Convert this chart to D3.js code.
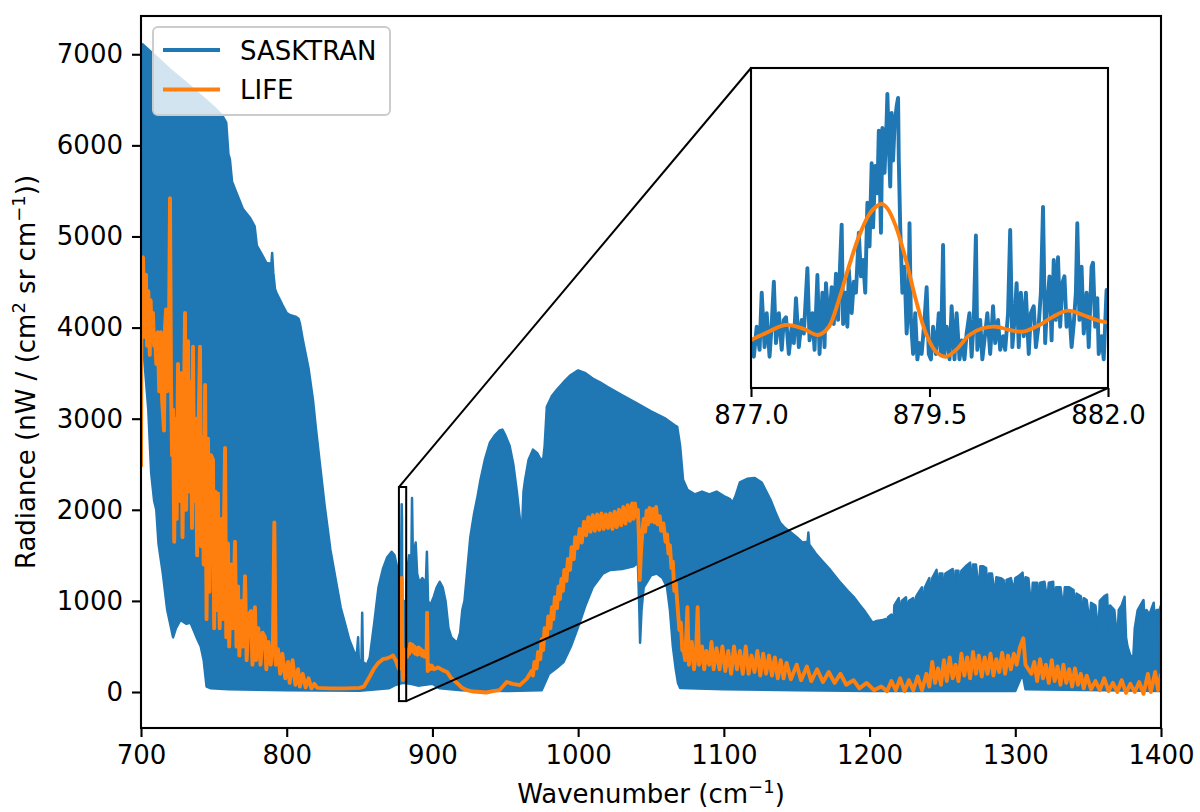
<!DOCTYPE html>
<html><head><meta charset="utf-8">
<script src="https://cdn.jsdelivr.net/npm/d3@7"></script>
<style>body{margin:0;background:#fff}text{font-family:"DejaVu Sans",sans-serif;fill:#000}</style>
</head><body><svg id="c" width="1200" height="812"></svg>
<script>
// ---------------- data ----------------
const xTicks = [700, 800, 900, 1000, 1100, 1200, 1300, 1400];
const yTicks = [0, 1000, 2000, 3000, 4000, 5000, 6000, 7000];
const insetTicks = [877.0, 879.5, 882.0];
const seriesNames = ["SASKTRAN", "LIFE"];

// SASKTRAN: dense spectrum, drawn as upper / lower envelope [wavenumber, radiance]
const sasktranUpper = [[700,7100],[701,7110],[710,6980],[720,6830],[730,6700],[740,6560],[750,6420],[756,6320],[758.5,6250],[760,5900],[761,5850],[762.5,5600],[765,5500],[770,5300],[775,5200],[778,5110],[779.5,4900],[783,4800],[786,4710],[789.5,4700],[790,4820],[790.8,4600],[792,4420],[793,4380],[797,4250],[800,4160],[802,4140],[806,4120],[808,4100],[809,4050],[811,3870],[815,3550],[818,3210],[820,2900],[823,2470],[826,2050],[830,1560],[834,1200],[837,930],[840,750],[843,570],[846,450],[848,385],[849,600],[849.5,350],[851.3,350],[851.8,870],[852.3,330],[855,300],[857,380],[860,750],[863,1150],[866,1350],[869,1480],[872,1540],[874,1500],[876,1350],[877,1000],[878,1300],[878.5,1500],[878.9,2060],[879.1,1900],[879.3,1000],[880,900],[881,1000],[881.8,900],[882.5,1300],[884,1500],[885.5,1400],[886,2130],[886.6,1450],[888.5,1640],[889.5,1300],[891,1200],[893,1250],[895.5,1200],[896.2,1540],[897,1000],[898.5,950],[901,1050],[903,1150],[905,1210],[907,1150],[909,1000],[911,700],[913,600],[917,540],[919,650],[920.5,900],[922,1000],[924,1350],[926,1700],[928.5,1950],[931,2150],[933,2330],[936,2550],[939.5,2740],[943,2820],[946,2870],[948,2880],[950,2820],[953,2700],[955.5,2500],[958,2190],[960,1900],[960.6,1420],[961.3,1700],[962.5,2200],[963.6,2330],[966,2550],[969,2660],[972,2620],[974,2560],[976,2550],[977,2700],[978.5,3130],[982,3250],[985.5,3320],[990,3400],[995,3480],[1000,3530],[1005,3500],[1010,3440],[1015,3400],[1020,3350],[1030,3260],[1040,3170],[1050,3080],[1060,3000],[1066,2930],[1068,2910],[1070,2700],[1072,2330],[1075,2220],[1080,2170],[1085,2200],[1090,2170],[1095,2200],[1100,2150],[1104,2120],[1106,2080],[1108,2150],[1111,2300],[1116,2340],[1121,2350],[1126,2300],[1132,2110],[1136,1950],[1138.5,1860],[1142,1800],[1146,1750],[1150,1700],[1154,1640],[1157.5,1650],[1158,1750],[1158.6,1620],[1163,1520],[1168,1430],[1173,1340],[1180,1200],[1185,1110],[1189,1045],[1193,960],[1197,880],[1202,760],[1205,780],[1209,790],[1211,800],[1211.8,500],[1212.6,820],[1215,850],[1216,600],[1217,950],[1220,1030],[1221,700],[1222,1000],[1225,1040],[1226,760],[1227,1000],[1230,1030],[1231,800],[1232,1050],[1234,1100],[1236,1150],[1237,800],[1238,1150],[1241,1250],[1242,900],[1243,1250],[1246,1340],[1247,950],[1248,1300],[1250,1300],[1251,1000],[1252,1300],[1255,1330],[1257,1350],[1258,1000],[1259,1330],[1261,1330],[1262,1050],[1263,1330],[1266,1380],[1269,1420],[1270,1050],[1271,1400],[1273,1400],[1275,1100],[1276,1380],[1278,1380],[1280,1360],[1281,1000],[1282,1300],[1284,1300],[1286,1050],[1287,1260],[1290,1250],[1292,1230],[1293,950],[1294,1230],[1297,1250],[1299,1100],[1300,1250],[1303,1280],[1305,1310],[1306,1000],[1307,1260],[1309,1250],[1311,900],[1312,1200],[1315,1200],[1316,950],[1317,1200],[1320,1210],[1322,1000],[1323,1200],[1326,1210],[1327,850],[1328,1150],[1331,1150],[1333,900],[1334,1150],[1337,1150],[1340,1120],[1341,800],[1342,1080],[1345,1050],[1346,700],[1347,1030],[1349,1010],[1351,750],[1352,980],[1355,950],[1357,650],[1358,1000],[1361,1050],[1363,1070],[1364,700],[1365,950],[1368,900],[1370,550],[1371,900],[1373,950],[1375,1045],[1376,600],[1377,500],[1379,400],[1381,385],[1382,700],[1384,900],[1388,1010],[1389,650],[1390,900],[1392,850],[1395,980],[1396,600],[1397,900],[1399,900],[1400,950]];
const sasktranLower = [[700,3800],[701.5,3790],[703,3500],[705,3100],[707,2400],[709,2100],[710.5,2000],[712,1630],[715,1300],[718,900],[722,600],[724,700],[727,790],[731,750],[734,760],[738,605],[741,500],[743,350],[745,60],[748,40],[760,30],[800,20],[850,15],[870,40],[875,80],[880,100],[885,90],[890,70],[900,90],[905,40],[920,20],[950,10],[975,20],[980,200],[985,260],[990,330],[995,500],[1001,760],[1005,950],[1010,1150],[1017,1300],[1022,1340],[1030,1350],[1038,1380],[1041,1420],[1042,900],[1042.5,540],[1043.5,900],[1045,1150],[1047,1200],[1050,1280],[1054,1300],[1058,1250],[1061,1150],[1063,900],[1065,500],[1067,250],[1068.5,100],[1070,45],[1100,30],[1150,20],[1200,10],[1300,10],[1305,200],[1307,30],[1400,10]];

// LIFE (main view, outside the zoom window)
const lifeMain = [[700,2470],[700.4,4750],[701.4,4770],[702.4,3900],[703.4,4580],[704.2,3800],[705,4400],[706,3700],[706.6,4300],[707.5,3850],[708.2,4160],[709,3800],[709.6,3930],[710.5,3600],[711.5,3950],[712.5,3300],[713.7,3950],[714.5,3200],[715.8,2870],[716.5,4000],[717.2,4200],[718,3300],[719,3500],[719.9,5420],[720.6,3400],[721.3,2600],[722,3100],[722.8,1650],[723.5,3000],[724.5,1900],[725.4,3600],[726.5,2100],[727.5,3500],[728.5,1700],[729.5,3200],[730.2,4160],[731,2000],[732.3,3850],[733.2,2200],[734,3400],[735,1800],[735.7,3790],[736.5,2100],[737.5,3000],[738.5,1500],[739.5,2900],[740.5,3790],[741.3,1600],[742,2800],[743,1400],[744,3370],[745,800],[746,2780],[747,1100],[748,2600],[749.4,2550],[750.2,700],[751,2200],[752,900],[752.8,2180],[754,700],[755,1900],[756,800],[757.7,2680],[758.5,600],[759.7,1630],[760.5,500],[762,1400],[763,700],[764.5,1650],[765.5,500],[766.6,1160],[767.5,400],[769,1000],[770,500],[771.4,1270],[772.5,350],[774,850],[775.5,890],[776.5,300],[778.2,930],[779,350],[780.5,700],[782,300],[783.5,650],[785.1,600],[786,250],[787.5,550],[789,300],[790.5,500],[791.5,1860],[792.5,300],[794,470],[795.5,200],[797,420],[799,150],[800.9,330],[802,100],[804,350],[806,80],[807.8,250],[809,60],[811,200],[813,50],[815,150],[817,40],[819,90],[821,45],[830,40],[840,40],[850,45],[853,60],[857,170],[860,260],[862.6,315],[866,360],[868.8,370],[871,385],[873,400],[875,340],[876.4,275],
[882.6,385],[883.3,470],[884,420],[884.7,530],[885.4,460],[886.1,520],[886.8,440],[887.5,500],[888.2,420],[889,480],[889.8,410],[890.5,490],[891.3,420],[892,470],[892.9,400],[893.7,450],[894.5,390],[895.3,430],[896,380],[896.3,870],[896.8,230],[897.5,300],[898.4,250],[899.5,290],[901,250],[903.8,270],[907,240],[910,220],[913,150],[916.9,100],[920,50],[923.7,20],[928,5],[932.7,0],[937,-5],[941.6,10],[946,20],[951,110],[955,90],[960,75],[965,150],
[968,230],[969,180],[970,330],[971.5,260],[972.5,440],[974,360],[975,580],[976,460],[977,700],[978.6,600],[979.5,830],[981,700],[982,930],[983,800],[984,1040],[985.5,920],[986.5,1160],[987.5,1020],[988.5,1240],[989.6,1110],[990.5,1340],[992,1220],[993,1460],[994.4,1340],[995.5,1590],[997,1460],[998,1700],[999.5,1580],[1001,1790],[1002.5,1640],[1004,1870],[1005.5,1720],[1007,1920],[1008.5,1760],[1010,1940],[1011.5,1770],[1013,1950],[1014.5,1780],[1016,1960],[1017.5,1790],[1019,1950],[1020.5,1800],[1022,1960],[1023.5,1790],[1025,1980],[1026.5,1810],[1028,2000],[1029.5,1830],[1031,2030],[1032.5,1850],[1034,2050],[1035.5,1880],[1037,2070],[1038,1900],[1039,2070],[1040,1930],[1041,2000],[1041.7,1700],[1042.3,1230],[1043,1500],[1044,1750],[1045,1900],[1046,1760],[1047,1990],[1048,1840],[1049,2020],[1050,1870],[1051.4,2010],[1052.5,1860],[1053.5,2030],[1054.5,1840],[1056,1930],[1057,1770],[1058.5,1850],[1060,1650],[1061,1730],[1062,1520],[1063,1610],[1064,1360],[1065,1430],[1066,1110],[1067,1210],[1068.5,880],[1069.5,680],[1070.5,760],[1071.5,460],[1072,500],
[1073.5,350],[1075,930],[1076,300],[1078,550],[1079.5,250],[1081,450],[1082,930],[1083,300],[1085,500],[1086.5,250],[1088,450],[1090,300],[1091.5,550],[1093,250],[1095,480],[1097,250],[1099,500],[1101,230],[1103,450],[1105,200],[1107,500],[1109,250],[1111,450],[1113,200],[1115,500],[1117,200],[1119,400],[1121,220],[1123,450],[1125,180],[1127,420],[1129,200],[1131,400],[1133,180],[1135,380],[1137,150],[1139,350],[1141,150],[1143,320],[1146,140],[1150,300],[1153,130],[1157,280],[1160,120],[1164,250],[1168,110],[1172,220],[1176,100],[1180,200],[1184,80],[1189,130],[1193,40],[1198,100],[1203,20],[1208,60],[1212,10],[1215,120],[1218,20],[1221,150],[1224,10],[1227,130],[1230,20],[1233,170],[1236,20],[1239,200],[1241,60],[1243,330],[1245,100],[1247,260],[1249,80],[1251,350],[1253,120],[1255,380],[1257,150],[1259,300],[1261,120],[1263,420],[1265,180],[1267,380],[1269,150],[1271,440],[1273,200],[1275,400],[1277,170],[1279,380],[1281,200],[1283,420],[1285,180],[1287,360],[1289,220],[1291,430],[1293,200],[1295,400],[1297,250],[1299,420],[1301,300],[1303,480],[1305.5,590],[1307,300],[1309,250],[1311,200],[1313,330],[1315,120],[1317,360],[1319,150],[1321,300],[1323,100],[1325,350],[1327,120],[1329,280],[1331,80],[1333,300],[1335,100],[1337,250],[1339,60],[1341,260],[1343,80],[1345,200],[1347,40],[1349,180],[1352,30],[1355,120],[1358,20],[1361,150],[1364,10],[1367,100],[1370,0],[1373,130],[1376,-10],[1379,90],[1382,0],[1385,110],[1388,-20],[1391,200],[1393,0],[1396,220],[1398,20],[1400,200]];

// zoom window 877-882 cm-1
const sasktranZoom = [[877.00,250],[877.04,130],[877.08,350],[877.12,180],[877.15,600],[877.19,200],[877.22,450],[877.26,130],[877.29,370],[877.32,680],[877.35,230],[877.39,450],[877.43,180],[877.46,400],[877.49,420],[877.53,150],[877.57,350],[877.60,230],[877.63,560],[877.67,200],[877.71,400],[877.74,300],[877.79,780],[877.82,250],[877.86,450],[877.89,180],[877.93,730],[877.96,150],[878.00,600],[878.03,200],[878.05,670],[878.09,350],[878.13,640],[878.16,370],[878.19,740],[878.22,400],[878.25,840],[878.27,1100],[878.29,370],[878.32,600],[878.35,350],[878.37,770],[878.41,450],[878.44,680],[878.47,600],[878.51,1040],[878.54,720],[878.57,840],[878.60,600],[878.63,1260],[878.66,940],[878.69,1550],[878.71,1080],[878.74,1530],[878.77,1330],[878.79,1790],[878.82,1040],[878.84,1810],[878.87,1480],[878.90,1870],[878.91,2060],[878.93,1700],[878.95,1380],[878.97,1920],[878.99,1570],[879.01,1820],[879.04,1970],[879.06,2030],[879.07,1570],[879.09,1080],[879.12,600],[879.15,790],[879.18,300],[879.21,600],[879.22,1110],[879.24,400],[879.27,150],[879.30,450],[879.33,110],[879.36,230],[879.39,150],[879.43,400],[879.46,640],[879.49,150],[879.52,110],[879.55,350],[879.59,150],[879.63,450],[879.66,150],[879.69,950],[879.71,150],[879.74,350],[879.78,110],[879.81,500],[879.85,110],[879.88,450],[879.92,110],[879.95,250],[879.99,110],[880.02,300],[880.06,450],[880.09,130],[880.12,400],[880.15,1020],[880.17,180],[880.21,400],[880.24,110],[880.28,300],[880.31,450],[880.35,150],[880.39,500],[880.42,230],[880.46,400],[880.49,180],[880.53,280],[880.56,180],[880.60,450],[880.63,1060],[880.66,200],[880.69,400],[880.72,670],[880.75,200],[880.78,600],[880.82,280],[880.85,600],[880.89,150],[880.92,450],[880.96,500],[880.99,200],[881.03,370],[881.06,600],[881.09,1230],[881.12,230],[881.14,450],[881.18,720],[881.21,250],[881.24,840],[881.27,400],[881.30,860],[881.33,350],[881.36,670],[881.39,720],[881.42,350],[881.46,450],[881.49,200],[881.52,370],[881.55,600],[881.57,1110],[881.60,400],[881.63,790],[881.66,300],[881.70,600],[881.73,200],[881.77,790],[881.79,820],[881.82,350],[881.85,560],[881.87,150],[881.91,280],[881.94,110],[881.98,620],[882.00,400]];
const lifeZoom = [[877.00,252],[877.20,301],[877.48,363],[877.72,338],[877.94,289],[878.09,350],[878.23,546],[878.37,791],[878.51,1011],[878.65,1171],[878.75,1232],[878.83,1251],[878.91,1219],[879.03,1085],[879.17,840],[879.31,546],[879.45,301],[879.59,167],[879.73,130],[879.87,179],[880.06,289],[880.24,338],[880.43,350],[880.62,326],[880.81,314],[881.04,363],[881.23,424],[881.44,468],[881.65,436],[881.84,399],[882.00,380]];

// ---------------- drawing ----------------
const C1 = "#1f77b4", C2 = "#ff7f0e";
const FS = 26;
const svg = d3.select("#c");
const x = d3.scaleLinear().domain([700, 1400]).range([141, 1161]);
const y = d3.scaleLinear().domain([-395, 7420]).range([728, 16]);

svg.append("defs").append("clipPath").attr("id", "clipMain")
  .append("rect").attr("x", 141).attr("y", 16).attr("width", 1020).attr("height", 712);

const gMain = svg.append("g").attr("clip-path", "url(#clipMain)");
const envelope = sasktranUpper.concat(sasktranLower.slice().reverse());
const lineMain = d3.line().x(d => x(d[0])).y(d => y(d[1]));
gMain.append("path").attr("d", lineMain(envelope) + "Z")
  .attr("fill", C1).attr("stroke", C1).attr("stroke-width", 2.5).attr("stroke-linejoin", "round");

const lifeAll = lifeMain.concat(lifeZoom).sort((a, b) => a[0] - b[0]);
gMain.append("path").attr("d", lineMain(lifeAll)).attr("fill", "none")
  .attr("stroke", C2).attr("stroke-width", 3.9).attr("stroke-linejoin", "round");

// axes
const ax = svg.append("g").attr("transform", "translate(0,728)")
  .call(d3.axisBottom(x).tickValues(xTicks).tickSize(9).tickPadding(9).tickFormat(d3.format("d")));
const ay = svg.append("g").attr("transform", "translate(141,0)")
  .call(d3.axisLeft(y).tickValues(yTicks).tickSize(9).tickPadding(9).tickFormat(d3.format("d")));
[ax, ay].forEach(g => {
  g.select(".domain").remove();
  g.selectAll(".tick line").attr("stroke", "#000").attr("stroke-width", 2.1);
  g.selectAll(".tick text").attr("font-size", FS).attr("font-family", "DejaVu Sans");
});
svg.append("rect").attr("x", 141).attr("y", 16).attr("width", 1020).attr("height", 712)
  .attr("fill", "none").attr("stroke", "#000").attr("stroke-width", 2.1);

// axis labels
const xl = svg.append("text").attr("x", 651).attr("y", 803).attr("text-anchor", "middle").attr("font-size", FS);
xl.append("tspan").text("Wavenumber (cm");
xl.append("tspan").attr("dy", -10).attr("font-size", 18).text("\u22121");
xl.append("tspan").attr("dy", 10).text(")");

const yl = svg.append("text").attr("transform", "translate(35,372) rotate(-90)")
  .attr("text-anchor", "middle").attr("font-size", FS);
yl.append("tspan").text("Radiance (nW / (cm");
yl.append("tspan").attr("dy", -10).attr("font-size", 18).text("2");
yl.append("tspan").attr("dy", 10).text(" sr cm");
yl.append("tspan").attr("dy", -10).attr("font-size", 18).text("\u22121");
yl.append("tspan").attr("dy", 10).text("))");

// legend
const lg = svg.append("g");
lg.append("rect").attr("x", 153).attr("y", 27).attr("width", 237).attr("height", 88).attr("rx", 5)
  .attr("fill", "#fff").attr("fill-opacity", 0.8).attr("stroke", "#cccccc").attr("stroke-width", 2);
[C1, C2].forEach((c, i) => {
  const yy = 50 + i * 39.5;
  lg.append("line").attr("x1", 163).attr("x2", 220).attr("y1", yy).attr("y2", yy)
    .attr("stroke", c).attr("stroke-width", 3.9);
  lg.append("text").attr("x", 240).attr("y", yy + 9.5).attr("font-size", FS).text(seriesNames[i]);
});

// zoom indicator rectangle
const rx0 = x(877), rx1 = x(882), ry0 = y(2250), ry1 = y(-100);
svg.append("rect").attr("x", rx0).attr("y", ry0).attr("width", rx1 - rx0).attr("height", ry1 - ry0)
  .attr("fill", "none").attr("stroke", "#000").attr("stroke-width", 2);

// inset
const xi = d3.scaleLinear().domain([877, 882]).range([751, 1108]);
const yi = d3.scaleLinear().domain([-100, 2250]).range([388, 68]);
svg.append("rect").attr("x", 751).attr("y", 68).attr("width", 357).attr("height", 320).attr("fill", "#fff");
svg.select("defs").append("clipPath").attr("id", "clipIn")
  .append("rect").attr("x", 751).attr("y", 68).attr("width", 357).attr("height", 320);
const gIn = svg.append("g").attr("clip-path", "url(#clipIn)");
const lineIn = d3.line().x(d => xi(d[0])).y(d => yi(d[1]));
gIn.append("path").attr("d", lineIn(sasktranZoom)).attr("fill", "none")
  .attr("stroke", C1).attr("stroke-width", 3.9).attr("stroke-linejoin", "round");
gIn.append("path").attr("d", d3.line().curve(d3.curveCatmullRom).x(d => xi(d[0])).y(d => yi(d[1]))(lifeZoom))
  .attr("fill", "none").attr("stroke", C2).attr("stroke-width", 3.9);
const axi = svg.append("g").attr("transform", "translate(0,388)")
  .call(d3.axisBottom(xi).tickValues(insetTicks).tickSize(9).tickPadding(9).tickFormat(d3.format(".1f")));
axi.select(".domain").remove();
axi.selectAll(".tick line").attr("stroke", "#000").attr("stroke-width", 2.1);
axi.selectAll(".tick text").attr("font-size", FS).attr("font-family", "DejaVu Sans");
svg.append("rect").attr("x", 751).attr("y", 68).attr("width", 357).attr("height", 320)
  .attr("fill", "none").attr("stroke", "#000").attr("stroke-width", 2.1);

// connector lines
svg.append("line").attr("x1", rx0).attr("y1", ry0).attr("x2", 751).attr("y2", 68)
  .attr("stroke", "#000").attr("stroke-width", 2);
svg.append("line").attr("x1", rx1).attr("y1", ry1).attr("x2", 1108).attr("y2", 388)
  .attr("stroke", "#000").attr("stroke-width", 2);
</script></body></html>
